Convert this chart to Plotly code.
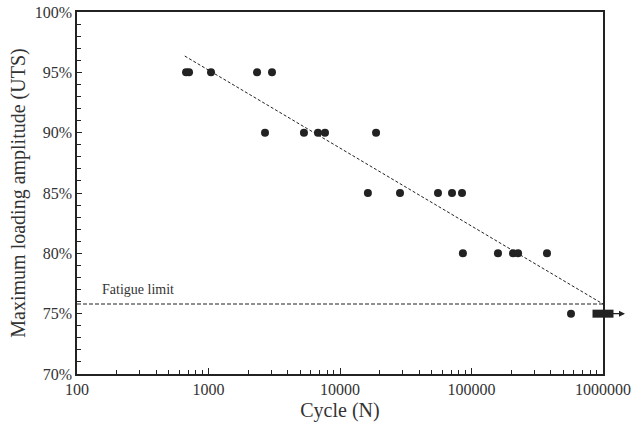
import math
import plotly.graph_objects as go

# Data
cycles = [675, 711, 1045, 2340, 3040,
          2690, 5320, 6800, 7690, 18800,
          16300, 28600, 55600, 71100, 84700,
          86000, 159000, 207000, 226000, 375000,
          571000]
amplitude = [95, 95, 95, 95, 95,
             90, 90, 90, 90, 90,
             85, 85, 85, 85, 85,
             80, 80, 80, 80, 80,
             75]
runout_cycles = [1000000]
runout_amplitude = [75]
trend_cycles = [660, 1000000]
trend_amplitude = [96.35, 75.8]
fatigue_cycles = [100, 1000000]
fatigue_amplitude = [75.8, 75.8]
x_tickvals = [100, 1000, 10000, 100000, 1000000]
x_ticktext = ["100", "1000", "10000", "100000", "1000000"]
y_tickvals = [70, 75, 80, 85, 90, 95, 100]
y_ticktext = ["70%", "75%", "80%", "85%", "90%", "95%", "100%"]

INK = "#222222"
TXT = "#333333"
FONT = "Liberation Serif, Times New Roman, serif"

fig = go.Figure()
fig.add_trace(go.Scatter(x=fatigue_cycles, y=fatigue_amplitude, mode="lines",
                         line=dict(color=INK, width=1, dash="4px,2px"),
                         hoverinfo="skip", showlegend=False))
fig.add_trace(go.Scatter(x=trend_cycles, y=trend_amplitude, mode="lines",
                         line=dict(color=INK, width=1, dash="3px,2px"),
                         hoverinfo="skip", showlegend=False))
fig.add_trace(go.Scatter(x=cycles, y=amplitude, mode="markers",
                         marker=dict(color=INK, size=8), showlegend=False))
fig.add_trace(go.Scatter(x=runout_cycles, y=runout_amplitude, mode="markers",
                         marker=dict(symbol="line-ew", size=15,
                                     line=dict(color=INK, width=8)),
                         showlegend=False, cliponaxis=False))

minor_x = [m * 10 ** d for d in range(2, 6) for m in range(2, 10)]

fig.add_annotation(x=math.log10(runout_cycles[0]), y=runout_amplitude[0],
                   xshift=22, ax=-15, ay=0, text="", showarrow=True,
                   arrowhead=2, arrowsize=1, arrowwidth=1.2, arrowcolor=INK)
fig.add_annotation(x=math.log10(150), y=77.0, xanchor="left", yanchor="middle",
                   text="Fatigue limit", showarrow=False,
                   font=dict(family=FONT, size=14, color=TXT))

fig.update_xaxes(type="log", range=[2, 6], tickvals=x_tickvals, ticktext=x_ticktext,
                 ticks="inside", ticklen=6, tickwidth=1, tickcolor=INK,
                 minor=dict(tickvals=minor_x, ticks="inside", ticklen=4,
                            tickwidth=1, tickcolor=INK, showgrid=False),
                 showline=True, linecolor=INK, linewidth=1.5, mirror=True,
                 showgrid=False, zeroline=False,
                 tickfont=dict(family=FONT, size=16, color=TXT),
                 title=dict(text="Cycle (N)", font=dict(family=FONT, size=20, color=TXT),
                            standoff=6))
fig.update_yaxes(range=[70, 100], tickvals=y_tickvals, ticktext=y_ticktext,
                 ticks="inside", ticklen=5, tickwidth=1, tickcolor=INK,
                 minor=dict(dtick=1, ticks="inside", ticklen=4, tickwidth=1,
                            tickcolor=INK, showgrid=False),
                 showline=True, linecolor=INK, linewidth=1.5, mirror=True,
                 showgrid=False, zeroline=False,
                 tickfont=dict(family=FONT, size=16, color=TXT),
                 title=dict(text="Maximum loading amplitude (UTS)",
                            font=dict(family=FONT, size=20, color=TXT), standoff=4))

fig.update_layout(width=641, height=434, plot_bgcolor="white", paper_bgcolor="white",
                  font=dict(family=FONT, color=TXT),
                  margin=dict(l=77, r=38, t=12, b=60, autoexpand=False))

fig.write_html("out.html")
